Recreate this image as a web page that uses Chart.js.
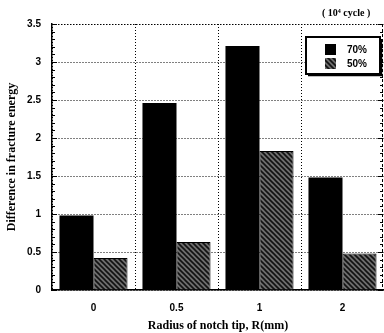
<!DOCTYPE html>
<html><head><meta charset="utf-8">
<script src="https://cdn.jsdelivr.net/npm/chart.js@4/dist/chart.umd.min.js"></script>
<style>html,body{margin:0;padding:0;background:#fff}#wrap{width:384px;height:333px;position:relative}</style>
</head><body><div id="wrap"><canvas id="c" width="384" height="333"></canvas></div>
<script>
const categories = ['0', '0.5', '1', '2'];
const series70 = [0.98, 2.46, 3.21, 1.48];
const series50 = [0.42, 0.63, 1.83, 0.48];
const seriesLabels = ['70%', '50%'];
const unitLabel = '( 10\u2074 cycle )';
const xTitle = 'Radius of notch tip, R(mm)';
const yTitle = 'Difference in fracture energy';

function hatch() {
  const c = document.createElement('canvas');
  c.width = 5; c.height = 5;
  const g = c.getContext('2d');
  g.fillStyle = '#6e6e6e'; g.fillRect(0, 0, 5, 5);
  g.strokeStyle = '#111'; g.lineWidth = 1.6;
  g.beginPath();
  g.moveTo(-1, -1); g.lineTo(6, 6);
  g.moveTo(-4, 1); g.lineTo(4, 9);
  g.moveTo(1, -4); g.lineTo(9, 4);
  g.stroke();
  return g.createPattern(c, 'repeat');
}
const hatchPat = hatch();

const deco = {
  id: 'deco',
  afterDraw(chart) {
    const ctx = chart.ctx, a = chart.chartArea, y = chart.scales.y;
    ctx.save();
    ctx.strokeStyle = '#000'; ctx.lineWidth = 1;
    ctx.setLineDash([1, 2]);
    ctx.beginPath(); ctx.moveTo(a.left, a.top + 0.5); ctx.lineTo(a.right, a.top + 0.5); ctx.stroke();
    ctx.setLineDash([3, 2]);
    ctx.beginPath(); ctx.moveTo(a.right - 1.5, a.top); ctx.lineTo(a.right - 1.5, a.bottom); ctx.stroke();
    ctx.setLineDash([]);
    for (let i = 0; i <= 35; i++) {
      const py = Math.round(y.getPixelForValue(i / 10)) + 0.5;
      const len = (i % 5 === 0) ? 5 : 3;
      ctx.beginPath();
      ctx.moveTo(a.left, py); ctx.lineTo(a.left + len, py);
      ctx.moveTo(a.right - 1, py); ctx.lineTo(a.right - 1 - len, py);
      ctx.stroke();
    }
    ctx.fillStyle = '#000';
    ctx.font = 'bold 10px "Liberation Serif", serif';
    ctx.textAlign = 'left'; ctx.textBaseline = 'middle';
    ctx.fillText(unitLabel, 322, 13);
    const lx = 306, ly = 37, lw = 74, lh = 37;
    ctx.fillStyle = '#fff'; ctx.fillRect(lx, ly, lw, lh);
    ctx.strokeStyle = '#000'; ctx.lineWidth = 2;
    ctx.strokeRect(lx, ly, lw, lh);
    ctx.lineWidth = 1.5;
    ctx.beginPath(); ctx.moveTo(lx + 2, ly + lh + 1.5); ctx.lineTo(lx + lw + 1.5, ly + lh + 1.5); ctx.lineTo(lx + lw + 1.5, ly + 2); ctx.stroke();
    const ds = chart.data.datasets;
    ctx.font = 'bold 10px "Liberation Sans", Arial, sans-serif';
    ds.forEach((d, i) => {
      const sy = 44 + i * 14;
      ctx.fillStyle = d.backgroundColor;
      ctx.fillRect(325, sy, 11, 11);
      ctx.fillStyle = '#000';
      ctx.textAlign = 'left';
      ctx.fillText(d.label, 347, sy + 6);
    });
    ctx.restore();
  }
};

new Chart(document.getElementById('c'), {
  type: 'bar',
  data: {
    labels: categories,
    datasets: [
      { label: seriesLabels[0], data: series70, backgroundColor: '#000', borderWidth: 0 },
      { label: seriesLabels[1], data: series50, backgroundColor: hatchPat, borderColor: '#000', borderWidth: 1 }
    ]
  },
  options: {
    responsive: false, animation: false,
    layout: { padding: { top: 24, left: 0, right: 0, bottom: 0 } },
    plugins: { legend: { display: false }, tooltip: { enabled: false } },
    datasets: { bar: { categoryPercentage: 0.82, barPercentage: 1 } },
    scales: {
      x: {
        grid: { color: '#000', lineWidth: 1, drawTicks: false, offset: true },
        border: { color: '#000', width: 1.5, dash: [1, 2] },
        ticks: { color: '#000', padding: 12, font: { family: '"Liberation Sans", Arial, sans-serif', weight: 'bold', size: 10 } },
        title: { display: true, text: xTitle, color: '#000', padding: { top: 6, bottom: 0 }, font: { family: '"Liberation Serif", serif', weight: 'bold', size: 12 } },
        afterFit(s) { s.height = 43; }
      },
      y: {
        min: 0, max: 3.5,
        grid: { color: '#000', lineWidth: 1, drawTicks: false },
        border: { color: '#000', width: 1.5, dash: [1, 2] },
        ticks: { stepSize: 0.5, color: '#000', padding: 11, callback: v => String(v), font: { family: '"Liberation Sans", Arial, sans-serif', weight: 'bold', size: 10 } },
        title: { display: true, text: yTitle, color: '#000', padding: { top: 5, bottom: 0 }, font: { family: '"Liberation Serif", serif', weight: 'bold', size: 12 } },
        afterFit(s) { s.width = 52; }
      }
    }
  },
  plugins: [deco]
});
</script></body></html>
